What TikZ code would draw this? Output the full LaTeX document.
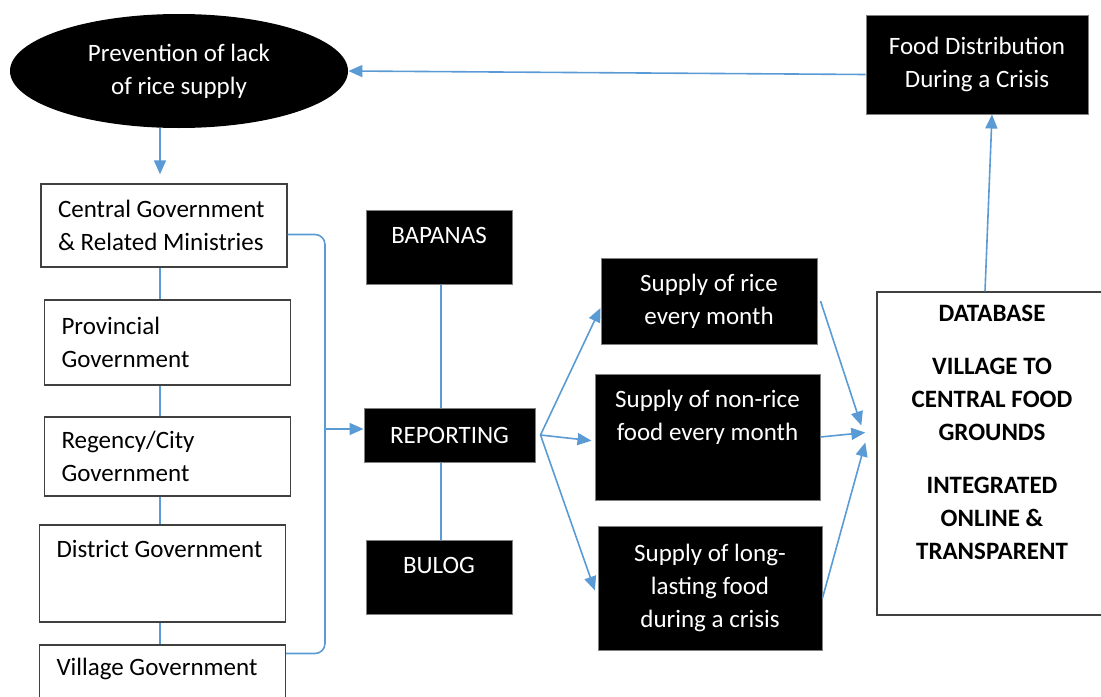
\documentclass[tikz,border=0pt]{standalone}
\usepackage{fontspec}
\setmainfont{Carlito}
\usepackage{tikz}
\usetikzlibrary{shapes.geometric,arrows.meta,positioning,calc}
\usepackage{xcolor}
\definecolor{linkblue}{RGB}{91,155,213}
\newcommand{\diagfont}{\fontsize{12.5}{16.5}\selectfont}

\begin{document}
\begin{tikzpicture}[
    x=0.5pt, y=-0.5pt,
    govbox/.style={rectangle, draw=black!75, line width=0.7pt, fill=white, align=flush left, text width=106pt, inner xsep=8.5pt, font=\diagfont},
    darkbox/.style={rectangle, draw=black!50, line width=0.5pt, fill=black, text=white, align=center, font=\diagfont},
    dbbox/.style={rectangle, draw=black!75, line width=0.7pt, fill=white, align=center, font=\diagfont\bfseries},
    link/.style={draw=linkblue, line width=0.8pt},
    flow/.style={link, -{Triangle[length=7pt, width=6pt]}},
]
\useasboundingbox (0,0) rectangle (1101,696);
\clip (0,0) rectangle (1101,696);

% top row
\node[ellipse, fill=black, text=white, align=center, font=\diagfont, minimum width=169pt, minimum height=57pt, inner sep=0pt] (prevent) at (179,71) {Prevention of lack\\of rice supply};
\node[darkbox, minimum width=111pt, minimum height=49.5pt] (fooddist) at (977,64.5) {Food Distribution\\During a Crisis};

% government levels
\node[govbox, minimum height=41.5pt] (central) at (164,225.5) {Central Government\\\& Related Ministries};
\node[govbox, minimum height=42.5pt] (province) at (167.5,342.5) {Provincial\\Government};
\node[govbox, minimum height=39.5pt] (regency) at (167.5,456.5) {Regency/City\\Government};
\node[govbox, minimum height=48.5pt, text height=12pt, text depth=28.5pt] (district) at (162.5,573.5) {District Government};
\node[govbox, minimum height=40pt, text height=11pt, text depth=21pt] (village) at (162.5,685) {Village Government};

% agencies
\node[darkbox, minimum width=73pt, minimum height=37pt, text depth=11.5pt] (bapanas) at (439,247) {BAPANAS};
\node[darkbox, minimum width=85.5pt, minimum height=27pt] (reporting) at (449.5,435) {REPORTING};
\node[darkbox, minimum width=73pt, minimum height=37pt, text depth=11.5pt] (bulog) at (439,577) {BULOG};

% supplies
\node[darkbox, minimum width=108pt, minimum height=43pt] (rice) at (709,301) {Supply of rice\\every month};
\node[darkbox, minimum width=112.5pt, minimum height=63pt] (nonrice) at (707.5,437) {Supply of non-rice\\food every month\\\strut};
\node[darkbox, minimum width=112pt, minimum height=62pt] (longlast) at (710,588) {Supply of long-\\lasting food\\during a crisis};

% database
\node[dbbox, minimum width=115pt, minimum height=161.5pt] (database) at (992,453.5) {DATABASE\\[10pt]VILLAGE TO\\CENTRAL FOOD\\GROUNDS\\[10pt]INTEGRATED\\ONLINE \&\\TRANSPARENT\\\strut};

\coordinate (spine) at (160,0);
\coordinate (brk) at (325,0);

% connectors
\draw[flow] ([yshift=-5pt]fooddist.west) -- (prevent.east);
\draw[flow, shorten >=4.5pt] (prevent.south -| spine) -- (central.north -| spine);
\foreach \a/\b in {central/province, province/regency, regency/district, district/village}
    \draw[link] (\a.south -| spine) -- (\b.north -| spine);
\draw[link, rounded corners=5pt] ([yshift=-4.5pt]central.east) -| ([yshift=15.75pt]village.east -| brk) -- ([yshift=15.75pt]village.east);
\draw[flow] ([yshift=3pt]reporting.west -| brk) -- ([yshift=3pt]reporting.west);
\draw[link] ([xshift=1pt]bapanas.south) -- ([xshift=1pt]bapanas.south |- reporting.north);
\draw[link] ([xshift=1pt]bulog.north |- reporting.south) -- ([xshift=1pt]bulog.north);

\coordinate (fan) at ([xshift=2.5pt]reporting.east);
\draw[flow] (fan) -- ([yshift=-3.5pt]rice.west);
\draw[flow, shorten >=1.5pt] (fan) -- ([yshift=-2pt]nonrice.west);
\draw[flow, shorten >=4pt] (fan) -- ([yshift=-5pt]longlast.west);

\draw[flow] ([xshift=1.5pt]rice.east) -- ([xshift=-7.5pt,yshift=14pt]database.west);
\draw[flow] (nonrice.east) -- ([xshift=-5.5pt,yshift=10.5pt]database.west);
\draw[flow] ([yshift=-5pt]longlast.east) -- ([xshift=-5.5pt,yshift=5.5pt]database.west);
\draw[flow] ([xshift=-3.5pt]database.north) -- ([xshift=7.5pt]fooddist.south);

\end{tikzpicture}
\end{document}
